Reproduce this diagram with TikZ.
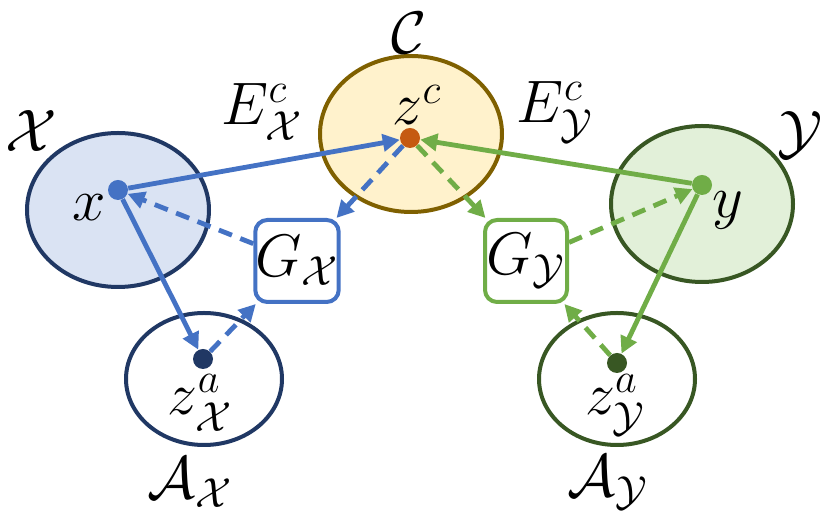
\RequirePackage{fix-cm}
\documentclass[tikz,border=0pt]{standalone}
\usepackage{amsmath,amssymb}
\usepackage{xcolor}
\usepackage{tikz}
\usetikzlibrary{arrows.meta,positioning,shapes.geometric}

\definecolor{xblue}{HTML}{4472C4}
\definecolor{xnavy}{HTML}{203864}
\definecolor{xfill}{HTML}{DAE3F3}
\definecolor{ygreen}{HTML}{70AD47}
\definecolor{ydark}{HTML}{385723}
\definecolor{yfill}{HTML}{E2F0D9}
\definecolor{cbrown}{HTML}{7F6000}
\definecolor{cfill}{HTML}{FFF2CC}
\definecolor{corange}{HTML}{C55A11}

\begin{document}
\begin{tikzpicture}[x=0.5pt, y=-0.5pt, >={Triangle[length=8.5pt,width=8.5pt]},
  font=\fontsize{30}{34}\selectfont, inner sep=1pt,
  sp/.style={ellipse, draw, line width=2pt, inner sep=0pt},
  pt/.style={circle, fill, inner sep=0pt, minimum size=10pt},
  gen/.style={rectangle, rounded corners=6pt, draw, line width=2pt, fill=white,
              minimum size=41pt, inner sep=0pt},
  sol/.style={->, line width=2.4pt},
  da/.style={->, line width=2.4pt, dash pattern=on 7pt off 4.5pt}]
  \useasboundingbox (0,0) rectangle (830,522);

  % spaces
  \node[sp, fill=xfill, draw=xnavy, minimum width=91pt, minimum height=77pt] (X) at (118,210) {};
  \node[sp, fill=cfill, draw=cbrown, minimum width=91pt, minimum height=78pt] (C) at (411,134) {};
  \node[sp, fill=yfill, draw=ydark, minimum width=91pt, minimum height=78pt] (Y) at (702,204) {};
  \node[sp, fill=white, draw=xnavy, minimum width=78pt, minimum height=66pt] (AX) at (204,379) {};
  \node[sp, fill=white, draw=ydark, minimum width=78pt, minimum height=66pt] (AY) at (617,379) {};

  % space names
  \node (Xl) at (31,131) {$\mathcal{X}$};
  \node (Cl) at (409,33) {$\mathcal{C}$};
  \node (Yl) at (800,135) {$\mathcal{Y}$};
  \node (AXl) at (190,483) {$\mathcal{A}_{\mathcal{X}}$};
  \node (AYl) at (608,483) {$\mathcal{A}_{\mathcal{Y}}$};
  \node (EX) at (262,112) {$E^{c}_{\mathcal{X}}$};
  \node (EY) at (555,112) {$E^{c}_{\mathcal{Y}}$};

  % points
  \node[pt, xblue] (xd) at (118,190) {};
  \node[pt, corange] (zc) at (410,138) {};
  \node[pt, ygreen] (yd) at (702,185) {};
  \node[pt, xnavy] (zax) at (203,359) {};
  \node[pt, ydark] (zay) at (617,363) {};
  \node (xl) at (89,208) {$x$};
  \node (yl) at (728,210) {$y$};
  \node (zcl) at (417,105) {$z^{c}$};
  \node (zaxl) at (200,403) {$z^{a}_{\mathcal{X}}$};
  \node (zayl) at (615,405) {$z^{a}_{\mathcal{Y}}$};

  % generators
  \node[gen, draw=xblue] (gx) at (297,261) {$G_{\mathcal{X}}$};
  \node[gen, draw=ygreen] (gy) at (526,261) {$G_{\mathcal{Y}}$};

  % encoders
  \draw[sol, xblue] (xd) -- (zc);
  \draw[sol, xblue] (xd) -- (zax);
  \draw[sol, ygreen] (yd) -- (zc);
  \draw[sol, ygreen] (yd) -- (zay);

  % decoders
  \draw[da, xblue] (zc) -- (gx);
  \draw[da, xblue] (zax) -- (gx);
  \draw[da, xblue] (gx) -- (xd);
  \draw[da, ygreen] (zc) -- (gy);
  \draw[da, ygreen] (zay) -- (gy);
  \draw[da, ygreen] (gy) -- (yd);
\end{tikzpicture}
\end{document}
